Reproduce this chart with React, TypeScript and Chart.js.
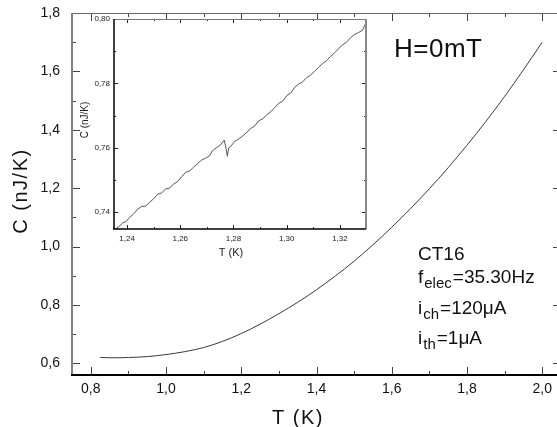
import React, { useEffect, useRef } from 'react';
import { Chart, registerables } from 'chart.js';
Chart.register(...registerables);

// Main curve: temperature (K) and heat capacity (nJ/K)
const mainT = [0.825, 0.85, 0.875, 0.9, 0.95, 1.0, 1.05, 1.1, 1.15, 1.2, 1.25, 1.3, 1.35, 1.4, 1.45, 1.5, 1.55, 1.6, 1.65, 1.7, 1.75, 1.8, 1.85, 1.9, 1.95, 2.0];
const mainC = [0.620, 0.619, 0.619, 0.620, 0.623, 0.630, 0.640, 0.654, 0.675, 0.702, 0.734, 0.770, 0.809, 0.852, 0.899, 0.950, 1.006, 1.066, 1.130, 1.198, 1.270, 1.347, 1.428, 1.514, 1.605, 1.700];

// Inset curve
const insetT = [1.2355, 1.2370, 1.2385, 1.2395, 1.2410, 1.2425, 1.2440, 1.2455, 1.2470, 1.2485, 1.2500, 1.2515, 1.2530, 1.2545, 1.2560, 1.2575, 1.2590, 1.2605, 1.2620, 1.2635, 1.2650, 1.2665, 1.2680, 1.2695, 1.2710, 1.2720, 1.2735, 1.2750, 1.2765, 1.2772, 1.2777, 1.2782, 1.2790, 1.2805, 1.2820, 1.2835, 1.2850, 1.2865, 1.2880, 1.2895, 1.2910, 1.2925, 1.2940, 1.2955, 1.2970, 1.2985, 1.3000, 1.3015, 1.3030, 1.3045, 1.3060, 1.3075, 1.3090, 1.3105, 1.3120, 1.3135, 1.3150, 1.3165, 1.3180, 1.3195, 1.3210, 1.3225, 1.3240, 1.3255, 1.3270, 1.3285, 1.3296];
const insetC = [0.7347, 0.7356, 0.7368, 0.7370, 0.7384, 0.7395, 0.7410, 0.7418, 0.7419, 0.7431, 0.7442, 0.7456, 0.7460, 0.7472, 0.7475, 0.7488, 0.7495, 0.7510, 0.7524, 0.7528, 0.7540, 0.7551, 0.7562, 0.7568, 0.7575, 0.7590, 0.7600, 0.7608, 0.7624, 0.7598, 0.7574, 0.7600, 0.7605, 0.7620, 0.7628, 0.7637, 0.7648, 0.7660, 0.7668, 0.7684, 0.7690, 0.7703, 0.7712, 0.7725, 0.7738, 0.7745, 0.7762, 0.7770, 0.7788, 0.7798, 0.7805, 0.7818, 0.7826, 0.7838, 0.7850, 0.7862, 0.7871, 0.7884, 0.7895, 0.7908, 0.7920, 0.7928, 0.7942, 0.7952, 0.7958, 0.7965, 0.7985];

const mainXTicks = [0.8, 1.0, 1.2, 1.4, 1.6, 1.8, 2.0];
const mainXTickLabels = ['0,8', '1,0', '1,2', '1,4', '1,6', '1,8', '2,0'];
const mainXMinor = [0.9, 1.1, 1.3, 1.5, 1.7, 1.9];
const mainYTicks = [0.6, 0.8, 1.0, 1.2, 1.4, 1.6, 1.8];
const mainYTickLabels = ['0,6', '0,8', '1,0', '1,2', '1,4', '1,6', '1,8'];
const mainYMinor = [0.7, 0.9, 1.1, 1.3, 1.5, 1.7];

const insetXTicks = [1.24, 1.26, 1.28, 1.30, 1.32];
const insetXTickLabels = ['1,24', '1,26', '1,28', '1,30', '1,32'];
const insetXMinor = [1.25, 1.27, 1.29, 1.31];
const insetYTicks = [0.74, 0.76, 0.78, 0.80];
const insetYTickLabels = ['0,74', '0,76', '0,78', '0,80'];
const insetYMinor = [0.75, 0.77, 0.79];

const FONT = "'Liberation Sans', Arial, Helvetica, sans-serif";

type Side = { color: string; width: number };
type FrameCfg = {
  xMajor: number[]; xMinor: number[]; yMajor: number[]; yMinor: number[];
  majorLen: number; minorLen: number; tickColor: string;
  left: Side; bottom: Side; top: Side; right: Side;
};

function framePlugin(id: string, f: FrameCfg, extra?: (chart: any) => void, white?: boolean) {
  return {
    id,
    beforeDraw(chart: any) {
      if (!white) return;
      const { ctx, chartArea: a } = chart;
      ctx.save();
      ctx.fillStyle = '#ffffff';
      ctx.fillRect(a.left, a.top, a.right - a.left, a.bottom - a.top);
      ctx.restore();
    },
    afterDatasetsDraw(chart: any) {
      const { ctx, chartArea: a, scales } = chart;
      const xs = scales.x, ys = scales.y;
      ctx.save();
      ctx.strokeStyle = f.tickColor;
      ctx.lineWidth = 1;
      ctx.beginPath();
      const vt = (vals: number[], len: number) => {
        for (const v of vals) {
          const px = Math.round(xs.getPixelForValue(v)) + 0.5;
          ctx.moveTo(px, a.bottom); ctx.lineTo(px, a.bottom - len);
          ctx.moveTo(px, a.top); ctx.lineTo(px, a.top + len);
        }
      };
      const ht = (vals: number[], len: number) => {
        for (const v of vals) {
          const py = Math.round(ys.getPixelForValue(v)) + 0.5;
          ctx.moveTo(a.left, py); ctx.lineTo(a.left + len, py);
          ctx.moveTo(a.right, py); ctx.lineTo(a.right - len, py);
        }
      };
      vt(f.xMajor, f.majorLen); vt(f.xMinor, f.minorLen);
      ht(f.yMajor, f.majorLen); ht(f.yMinor, f.minorLen);
      ctx.stroke();
      const side = (s: Side, x1: number, y1: number, x2: number, y2: number) => {
        ctx.beginPath();
        ctx.strokeStyle = s.color;
        ctx.lineWidth = s.width;
        ctx.moveTo(x1, y1); ctx.lineTo(x2, y2);
        ctx.stroke();
      };
      side(f.top, a.left, a.top + 0.5, a.right, a.top + 0.5);
      side(f.right, a.right, a.top, a.right, a.bottom);
      side(f.left, a.left, a.top, a.left, a.bottom);
      side(f.bottom, a.left - 1, a.bottom, a.right, a.bottom);
      ctx.restore();
      if (extra) extra(chart);
    },
  };
}

function drawMainText(chart: any) {
  const ctx: CanvasRenderingContext2D = chart.ctx;
  ctx.save();
  ctx.fillStyle = '#111';
  (ctx as any).letterSpacing = '1.5px';
  ctx.font = `20px ${FONT}`;
  ctx.textAlign = 'center';
  ctx.textBaseline = 'alphabetic';
  ctx.fillText('T (K)', 298, 424);
  ctx.save();
  ctx.translate(27, 191);
  ctx.rotate(-Math.PI / 2);
  ctx.fillText('C (nJ/K)', 0, 0);
  ctx.restore();
  (ctx as any).letterSpacing = '0.5px';
  ctx.textAlign = 'left';
  ctx.font = `26px ${FONT}`;
  ctx.fillText('H=0mT', 394, 57);
  (ctx as any).letterSpacing = '0px';
  const line = (x: number, y: number, main: string, sub: string, rest: string) => {
    let cx = x;
    ctx.font = `19px ${FONT}`;
    ctx.fillText(main, cx, y);
    cx += ctx.measureText(main).width + 1;
    if (sub) {
      ctx.font = `15px ${FONT}`;
      ctx.fillText(sub, cx, y + 5);
      cx += ctx.measureText(sub).width + 1;
    }
    if (rest) {
      ctx.font = `19px ${FONT}`;
      ctx.fillText(rest, cx, y);
    }
  };
  line(418, 260, 'CT16', '', '');
  line(418, 283, 'f', 'elec', '=35.30Hz');
  line(418, 314, 'i', 'ch', '=120μA');
  line(418, 344, 'i', 'th', '=1μA');
  ctx.restore();
}

function drawInsetText(chart: any) {
  const ctx: CanvasRenderingContext2D = chart.ctx;
  ctx.save();
  ctx.fillStyle = '#222';
  ctx.font = `11px ${FONT}`;
  ctx.textAlign = 'center';
  ctx.textBaseline = 'alphabetic';
  ctx.fillText('T (K)', 231, 256);
  ctx.save();
  ctx.translate(88, 120);
  ctx.rotate(-Math.PI / 2);
  ctx.font = `10px ${FONT}`;
  ctx.fillText('C (nJ/K)', 0, 0);
  ctx.restore();
  ctx.restore();
}

const W = 570;
const H = 427;

const noPadY = (w: number) => (s: any) => { s.width = w; s.paddingTop = 0; s.paddingBottom = 0; };
const noPadX = (h: number) => (s: any) => { s.height = h; s.paddingLeft = 0; s.paddingRight = 0; };

export default function App() {
  const mainRef = useRef<HTMLCanvasElement | null>(null);
  const insetRef = useRef<HTMLCanvasElement | null>(null);

  useEffect(() => {
    const mainData = mainT.map((t, i) => ({ x: t, y: mainC[i] }));
    const insetData = insetT.map((t, i) => ({ x: t, y: insetC[i] }));

    const main = new Chart(mainRef.current as HTMLCanvasElement, {
      type: 'line',
      data: {
        datasets: [{
          data: mainData,
          borderColor: '#3a3a3a',
          borderWidth: 1,
          pointRadius: 0,
          cubicInterpolationMode: 'monotone',
          fill: false,
        }],
      },
      options: {
        animation: false,
        responsive: false,
        events: [],
        layout: { padding: { left: 0, top: 13, right: W - 561, bottom: 0 } },
        plugins: { legend: { display: false }, tooltip: { enabled: false } },
        scales: {
          x: {
            type: 'linear', min: 0.75, max: 2.05,
            grid: { display: false, drawTicks: false },
            border: { display: false },
            afterBuildTicks: (s: any) => { s.ticks = mainXTicks.map((v) => ({ value: v })); },
            afterFit: noPadX(52),
            ticks: {
              autoSkip: false, maxRotation: 0, padding: 6, color: '#111',
              font: { family: FONT, size: 14 },
              callback: (_v: any, i: number) => mainXTickLabels[i],
            },
          },
          y: {
            type: 'linear', min: 0.56, max: 1.8,
            grid: { display: false, drawTicks: false },
            border: { display: false },
            afterBuildTicks: (s: any) => { s.ticks = mainYTicks.map((v) => ({ value: v })); },
            afterFit: noPadY(72),
            ticks: {
              autoSkip: false, padding: 12, color: '#111',
              font: { family: FONT, size: 14 },
              callback: (_v: any, i: number) => mainYTickLabels[i],
            },
          },
        },
      },
      plugins: [framePlugin('mainFrame', {
        xMajor: mainXTicks, xMinor: mainXMinor, yMajor: mainYTicks, yMinor: mainYMinor,
        majorLen: 8, minorLen: 4, tickColor: '#444',
        left: { color: '#808080', width: 2 },
        bottom: { color: '#000', width: 2 },
        top: { color: '#666', width: 1 },
        right: { color: '#666', width: 2 },
      }, drawMainText)],
    } as any);

    const inset = new Chart(insetRef.current as HTMLCanvasElement, {
      type: 'line',
      data: {
        datasets: [{
          data: insetData,
          borderColor: '#555',
          borderWidth: 1,
          pointRadius: 0,
          tension: 0,
          fill: false,
        }],
      },
      options: {
        animation: false,
        responsive: false,
        events: [],
        layout: { padding: { left: 84, top: 19, right: W - 366, bottom: H - 229 - 26 } },
        plugins: { legend: { display: false }, tooltip: { enabled: false } },
        scales: {
          x: {
            type: 'linear', min: 1.2351, max: 1.3298,
            grid: { display: false, drawTicks: false },
            border: { display: false },
            afterBuildTicks: (s: any) => { s.ticks = insetXTicks.map((v) => ({ value: v })); },
            afterFit: noPadX(26),
            ticks: {
              autoSkip: false, maxRotation: 0, padding: 5, color: '#222',
              font: { family: FONT, size: 8 },
              callback: (_v: any, i: number) => insetXTickLabels[i],
            },
          },
          y: {
            type: 'linear', min: 0.7348, max: 0.80,
            grid: { display: false, drawTicks: false },
            border: { display: false },
            afterBuildTicks: (s: any) => { s.ticks = insetYTicks.map((v) => ({ value: v })); },
            afterFit: noPadY(30),
            ticks: {
              autoSkip: false, padding: 4, color: '#222',
              font: { family: FONT, size: 8 },
              callback: (_v: any, i: number) => insetYTickLabels[i],
            },
          },
        },
      },
      plugins: [framePlugin('insetFrame', {
        xMajor: insetXTicks, xMinor: insetXMinor, yMajor: insetYTicks, yMinor: insetYMinor,
        majorLen: 4, minorLen: 2, tickColor: '#222',
        left: { color: '#000', width: 1.5 },
        bottom: { color: '#000', width: 1.5 },
        top: { color: '#777', width: 1 },
        right: { color: '#888', width: 2 },
      }, drawInsetText, true)],
    } as any);

    return () => { main.destroy(); inset.destroy(); };
  }, []);

  return (
    <div style={{ position: 'fixed', left: 0, top: 0, width: 557, height: 427, overflow: 'hidden', background: '#fff' }}>
      <canvas ref={mainRef} width={W} height={H} style={{ position: 'absolute', left: 0, top: 0, width: W, height: H }} />
      <canvas ref={insetRef} width={W} height={H} style={{ position: 'absolute', left: 0, top: 0, width: W, height: H }} />
    </div>
  );
}
